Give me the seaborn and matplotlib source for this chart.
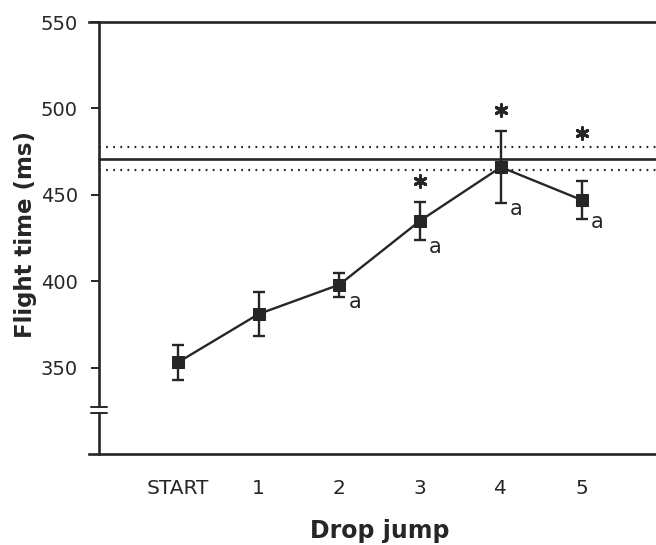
import numpy as np
import pandas as pd
import matplotlib
matplotlib.use('Agg')
import matplotlib.pyplot as plt
import seaborn as sns

# data
jumps = ['START', '1', '2', '3', '4', '5']
flight_mean = [353, 381, 398, 435, 466, 447]
flight_sd = [10, 13, 7, 11, 21, 11]
ref_mean = 471
ref_sd = 6.5
star_jumps = [3, 4, 5]
star_y = [458, 499, 486]
a_jumps = [2, 3, 4, 5]
a_y = [388, 420, 442, 434]

INK = '#262626'

sns.set_theme(style='white')
plt.rcParams['font.family'] = ['DejaVu Sans']

fig = plt.figure(figsize=(6.56, 5.45), dpi=100)
W, H = 656, 545
ax = fig.add_axes([89 / W, 1 - 454 / H, 1 - 89 / W, (454 - 22) / H])

pos = np.arange(len(jumps))
df = pd.DataFrame({'pos': pos, 'mean': flight_mean, 'sd': flight_sd})

x_left, x_right = -1.1, 5.92
spine_x = -0.98

# reference band (mean +/- sd), solid + dotted
ax.plot([spine_x, x_right], [ref_mean, ref_mean], color=INK, lw=1.9, zorder=2)
for s in (-1, 1):
    ax.plot([spine_x, x_right], [ref_mean + s * ref_sd] * 2, color=INK, lw=1.6,
            linestyle=(0, (0.8, 2.4)), zorder=2)

ax.errorbar(df['pos'], df['mean'], yerr=df['sd'], fmt='none', ecolor=INK,
            elinewidth=1.7, capsize=4.5, capthick=1.7, zorder=3)
sns.lineplot(data=df, x='pos', y='mean', marker='s', markersize=8, color=INK,
             linewidth=1.7, markeredgecolor=INK, ax=ax, zorder=4)

# significance marks
ax.scatter(star_jumps, star_y, marker=(6, 2, 0), s=70, color=INK, linewidths=2.2, zorder=5)
for j, y in zip(a_jumps, a_y):
    ax.text(j + 0.19, y, 'a', fontsize=15, color=INK, ha='center', va='center')

ax.set_xlim(x_left, x_right)
ax.set_ylim(300, 550)
ax.set_yticks([350, 400, 450, 500, 550])
ax.set_xticks(pos)
ax.set_xticklabels(jumps)

ax.spines['right'].set_visible(False)
for side in ('left', 'bottom', 'top'):
    ax.spines[side].set_color(INK)
    ax.spines[side].set_linewidth(1.9)
ax.spines['left'].set_position(('data', spine_x))

ax.tick_params(axis='y', direction='out', length=6, width=1.4, color=INK,
               labelsize=14, labelcolor=INK, pad=9, left=True)
ax.tick_params(axis='x', length=0, labelsize=14.5, labelcolor=INK, pad=18)

# axis break on the y axis
ax.plot([spine_x, spine_x], [324, 327], color='white', lw=4, zorder=6, clip_on=False,
        solid_capstyle='butt')
for yb in (323.5, 327):
    ax.plot([spine_x - 0.1, spine_x + 0.1], [yb, yb], color=INK, lw=1.4, zorder=7,
            clip_on=False)

ax.set_xlabel('Drop jump', fontsize=17, fontweight='bold', color=INK)
ax.set_ylabel('Flight time (ms)', fontsize=16.5, fontweight='bold', color=INK)
ax.xaxis.set_label_coords((380 - 89) / 567, -0.15)
ax.yaxis.set_label_coords((37 - 89) / 567, 0.508)

fig.savefig('out.png', dpi=100)
